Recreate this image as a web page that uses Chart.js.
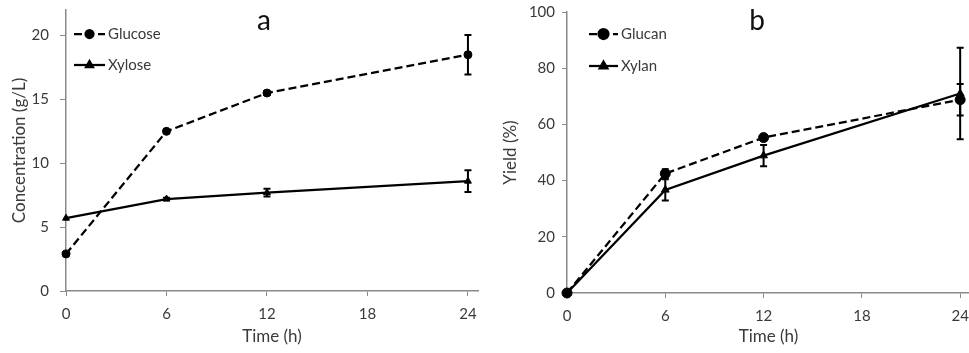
<!DOCTYPE html>
<html>
<head>
<meta charset="utf-8">
<script src="https://cdn.jsdelivr.net/npm/chart.js@4"></script>
<style>
  html, body { margin: 0; padding: 0; background: #fff; overflow: hidden; }
  #wrap { position: relative; width: 969px; height: 353px; overflow: hidden; }
  .panel { position: absolute; top: 0; height: 353px; }
  #panelA { left: 0; width: 485px; }
  #panelB { left: 485px; width: 520px; }
</style>
</head>
<body>
<div id="wrap">
  <div class="panel" id="panelA"><canvas id="chartA"></canvas></div>
  <div class="panel" id="panelB"><canvas id="chartB"></canvas></div>
</div>
<script>
// time points and axis ticks
const timeH = [0, 6, 12, 24];
const timeTicks = [0, 6, 12, 18, 24];

// panel a: sugar concentration (g/L)
const glucose = [2.9, 12.5, 15.5, 18.5];
const glucoseErr = [0, 0.1, 0.15, 1.55];
const xylose = [5.7, 7.2, 7.7, 8.6];
const xyloseErr = [0, 0.1, 0.3, 0.85];
const concTicks = [0, 5, 10, 15, 20];

// panel b: yield (%)
const glucan = [0, 42.5, 55.3, 68.8];
const glucanErr = [0, 1.5, 1, 5.6];
const xylan = [0, 36.7, 48.9, 71];
const xylanErr = [0, 3.8, 3.8, 16.3];
const yieldTicks = [0, 20, 40, 60, 80, 100];

const AXIS = '#898989';
const TEXT = '#3a3a3a';
const FONT = 'Lato, "Open Sans", sans-serif';

function points(ys) {
    return timeH.map((t, i) => ({ x: t, y: ys[i] }));
}

// vertical error bars drawn through the chart scales
const errorBars = {
    id: 'errorBars',
    afterDatasetsDraw(chart) {
        const ctx = chart.ctx;
        const xs = chart.scales.x, ys = chart.scales.y;
        chart.data.datasets.forEach(ds => {
            if (!ds.errors) return;
            ctx.save();
            ctx.strokeStyle = '#000';
            ctx.lineWidth = 2;
            ctx.setLineDash([]);
            ds.data.forEach((p, j) => {
                const e = ds.errors[j];
                if (!e) return;
                const x = xs.getPixelForValue(p.x);
                const y1 = ys.getPixelForValue(p.y + e);
                const y2 = ys.getPixelForValue(p.y - e);
                ctx.beginPath();
                ctx.moveTo(x, y1); ctx.lineTo(x, y2);
                ctx.moveTo(x - 3.5, y1); ctx.lineTo(x + 3.5, y1);
                ctx.moveTo(x - 3.5, y2); ctx.lineTo(x + 3.5, y2);
                ctx.stroke();
            });
            ctx.restore();
        });
    }
};

// Excel-style legend: line sample with marker, then label
const lineLegend = {
    id: 'lineLegend',
    afterDraw(chart, args, opts) {
        const ctx = chart.ctx;
        ctx.save();
        chart.data.datasets.forEach((ds, i) => {
            const y = opts.y + i * opts.rowGap;
            ctx.strokeStyle = ds.borderColor;
            ctx.lineWidth = ds.borderWidth;
            ctx.setLineDash(ds.borderDash || []);
            ctx.beginPath();
            ctx.moveTo(opts.x, y);
            ctx.lineTo(opts.x + opts.lineLen, y);
            ctx.stroke();
            ctx.setLineDash([]);
            ctx.fillStyle = ds.pointBackgroundColor;
            Chart.helpers.drawPoint(ctx, {
                pointStyle: ds.pointStyle, rotation: 0, radius: ds.pointRadius, borderWidth: 1
            }, opts.x + opts.lineLen / 2, y);
            ctx.fillStyle = TEXT;
            ctx.font = '15px ' + FONT;
            ctx.textBaseline = 'middle';
            ctx.textAlign = 'left';
            ctx.fillText(ds.label, opts.x + opts.lineLen + 3, y);
        });
        ctx.restore();
    }
};

const panelLabel = {
    id: 'panelLabel',
    afterDraw(chart, args, opts) {
        const ctx = chart.ctx;
        ctx.save();
        ctx.fillStyle = '#111';
        ctx.font = '28px ' + FONT;
        ctx.textAlign = 'center';
        ctx.textBaseline = 'alphabetic';
        ctx.fillText(opts.text, opts.x, opts.y);
        ctx.restore();
    }
};

function series(label, ys, errs, dashed, style, radius) {
    return {
        label: label,
        data: points(ys),
        errors: errs,
        showLine: true,
        clip: false,
        borderColor: '#000',
        borderWidth: 2.25,
        borderDash: dashed ? [8, 4] : [],
        pointStyle: style,
        pointRadius: radius,
        pointHoverRadius: radius,
        pointBackgroundColor: '#000',
        pointBorderColor: '#000',
        pointBorderWidth: 1
    };
}

function axis(title, tickValues, extra) {
    return {
        type: 'linear',
        min: 0,
        max: extra.max,
        afterBuildTicks: scale => { scale.ticks = tickValues.map(v => ({ value: v })); },
        afterFit: scale => {
            // keep the plot area where the reference puts it
            scale.paddingTop = scale.paddingBottom = 0;
            scale.paddingLeft = scale.paddingRight = 0;
            extra.afterFit(scale);
        },
        grid: { display: true, drawOnChartArea: false, drawTicks: true, tickLength: extra.tickLength, tickColor: AXIS, tickWidth: 1 },
        border: { display: true, color: AXIS, width: 1.5 },
        ticks: { color: TEXT, font: { family: FONT, size: 15 }, padding: extra.tickPad, maxRotation: 0 },
        title: { display: true, text: title, color: TEXT, font: { family: FONT, size: 17 }, padding: extra.titlePad }
    };
}

function makeChart(canvasId, cfg) {
    return new Chart(document.getElementById(canvasId), {
        type: 'scatter',
        data: { datasets: cfg.datasets },
        options: {
            responsive: true,
            maintainAspectRatio: false,
            animation: false,
            layout: { padding: cfg.padding },
            plugins: {
                legend: { display: false },
                tooltip: { enabled: false },
                lineLegend: cfg.legend,
                panelLabel: cfg.label
            },
            scales: {
                x: axis('Time (h)', timeTicks, {
                    max: 24.6,
                    afterFit: s => { s.height = 353 - cfg.bottom; },
                    tickLength: 5,
                    tickPad: 9,
                    titlePad: { top: 0, bottom: 6 }
                }),
                y: axis(cfg.yTitle, cfg.yTicks, {
                    max: cfg.yMax,
                    afterFit: s => { s.width = cfg.left; },
                    tickLength: cfg.yTickLen,
                    tickPad: cfg.yTickPad,
                    titlePad: { top: cfg.yTitlePad, bottom: 0 }
                })
            }
        },
        plugins: [errorBars, lineLegend, panelLabel]
    });
}

makeChart('chartA', {
    datasets: [
        series('Glucose', glucose, glucoseErr, true, 'circle', 4),
        series('Xylose', xylose, xyloseErr, false, 'triangle', 4)
    ],
    yTitle: 'Concentration (g/L)',
    yTicks: concTicks,
    yMax: 22,
    left: 66,
    bottom: 291,
    yTickLen: 6,
    yTickPad: 11,
    yTitlePad: 9,
    padding: { top: 10, right: 7, left: 0, bottom: 0 },
    legend: { x: 74, y: 34, rowGap: 31, lineLen: 31 },
    label: { text: 'a', x: 264, y: 30 }
});

makeChart('chartB', {
    datasets: [
        series('Glucan', glucan, glucanErr, true, 'circle', 5),
        series('Xylan', xylan, xylanErr, false, 'triangle', 4.5)
    ],
    yTitle: 'Yield (%)',
    yTicks: yieldTicks,
    yMax: 100,
    left: 82,
    bottom: 293,
    yTickLen: 5,
    yTickPad: 7,
    yTitlePad: 15,
    padding: { top: 12, right: 35, left: 0, bottom: 0 },
    legend: { x: 104, y: 34, rowGap: 32, lineLen: 29 },
    label: { text: 'b', x: 272, y: 30 }
});
</script>
</body>
</html>
